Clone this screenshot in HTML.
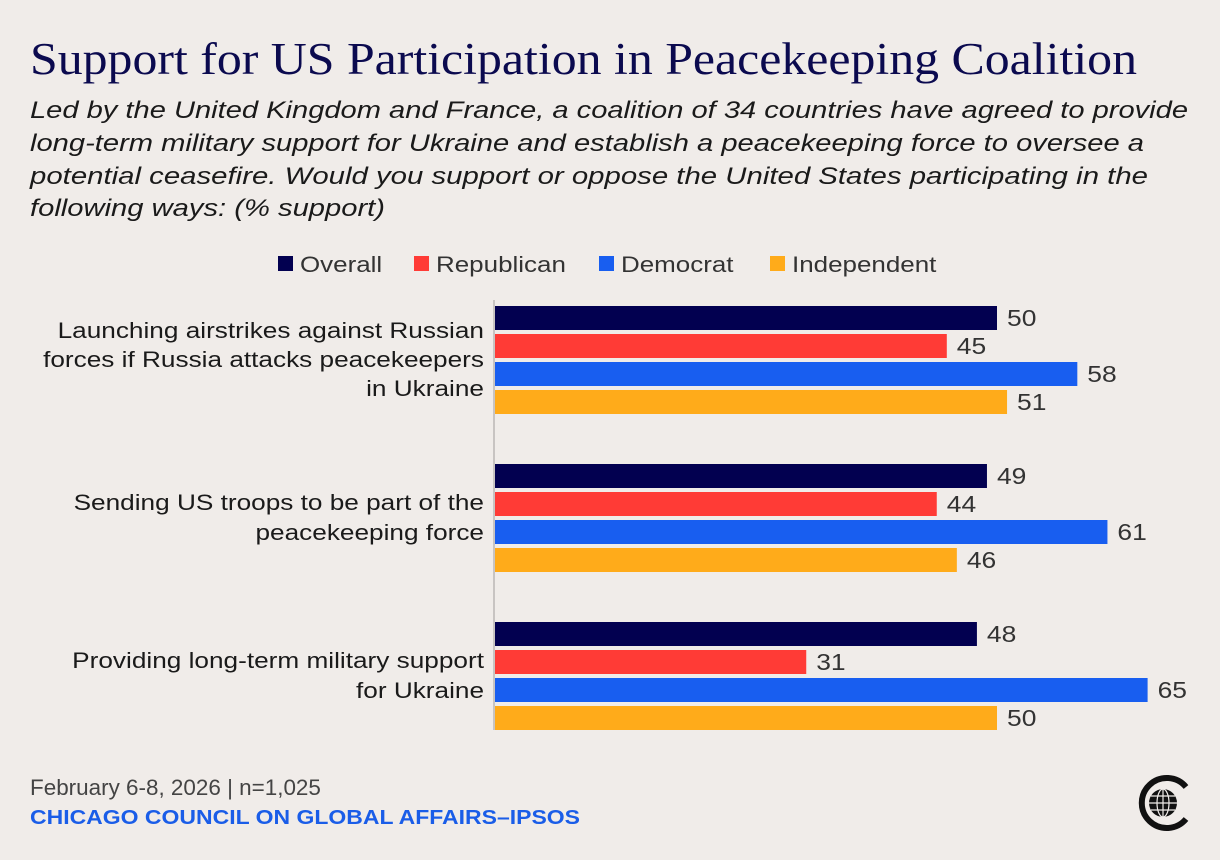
<!DOCTYPE html>
<html><head><meta charset="utf-8"><style>
html,body{margin:0;padding:0;background:#f0ece9;}
svg{display:block;font-family:"Liberation Sans",sans-serif;}
</style></head><body>
<svg id="chart" width="1220" height="860" viewBox="0 0 1220 860">
<rect width="1220" height="860" fill="#f0ece9"/>
<text x="30" y="74" font-family="Liberation Serif,serif" font-size="45" fill="#0b0a4f" textLength="1107" lengthAdjust="spacingAndGlyphs">Support for US Participation in Peacekeeping Coalition</text>
<g font-style="italic" font-size="24" fill="#1a1a1a">
<text x="30" y="118" textLength="1158" lengthAdjust="spacingAndGlyphs">Led by the United Kingdom and France, a coalition of 34 countries have agreed to provide</text>
<text x="30" y="151" textLength="1114" lengthAdjust="spacingAndGlyphs">long-term military support for Ukraine and establish a peacekeeping force to oversee a</text>
<text x="30" y="184" textLength="1118" lengthAdjust="spacingAndGlyphs">potential ceasefire. Would you support or oppose the United States participating in the</text>
<text x="30" y="216" textLength="355" lengthAdjust="spacingAndGlyphs">following ways: (% support)</text>
</g>
<g id="legend"></g>
<line x1="494" y1="300" x2="494" y2="730" stroke="#c8c4c2" stroke-width="2"/>
<g id="bars"></g>
<g id="cats" font-size="22" fill="#1a1a1a" text-anchor="end"></g>
<text class="w" x="30" y="795" font-size="22" fill="#444">February 6-8, 2026 | n=1,025</text>
<text x="30" y="824" font-size="20" font-weight="bold" fill="#1a5de8" textLength="550" lengthAdjust="spacingAndGlyphs">CHICAGO COUNCIL ON GLOBAL AFFAIRS–IPSOS</text>
<g>
<path d="M1186,787 A25,25 0 1 0 1186,819" fill="none" stroke="#111" stroke-width="6"/>
<circle cx="1163" cy="803" r="14" fill="#111"/>
<g stroke="#f0ece9" stroke-width="1.2" fill="none">
<ellipse cx="1163" cy="803" rx="6" ry="14"/>
<line x1="1149" y1="803" x2="1177" y2="803"/>
<line x1="1151" y1="796" x2="1175" y2="796"/>
<line x1="1151" y1="810" x2="1175" y2="810"/>
<line x1="1163" y1="789" x2="1163" y2="817"/>
</g>
</g>
</svg>
<script>
const categories = [
 ["Launching airstrikes against Russian","forces if Russia attacks peacekeepers","in Ukraine"],
 ["Sending US troops to be part of the","peacekeeping force"],
 ["Providing long-term military support","for Ukraine"]
];
const seriesNames = ["Overall","Republican","Democrat","Independent"];
const overall = [50,49,48];
const republican = [45,44,31];
const democrat = [58,61,65];
const independent = [51,46,50];
const colors = ["#020050","#ff3b36","#185ef0","#ffab1a"];
const series = [overall, republican, democrat, independent];
const NS="http://www.w3.org/2000/svg";
const x0=495, pxPer=10.04;
function xScale(v){return x0+v*pxPer;}
function groupY(g){return 306+g*158;}
function mk(tag,attrs,parent){const e=document.createElementNS(NS,tag);for(const k in attrs)e.setAttribute(k,attrs[k]);parent.appendChild(e);return e;}
function widen(t,f){const w=t.getComputedTextLength();t.setAttribute('textLength',(w*f).toFixed(1));t.setAttribute('lengthAdjust','spacingAndGlyphs');}
const bars=document.getElementById('bars'), cats=document.getElementById('cats'), legend=document.getElementById('legend');
const legX=[278,414,599,770];
seriesNames.forEach((n,i)=>{
 const r=mk('rect',{x:legX[i],y:256,width:15,height:15,fill:colors[i]},legend);
 
 
 const t=mk('text',{x:legX[i]+22,y:272,'font-size':22,fill:'#333'},legend);
 t.textContent=n;
 
 
 widen(t,1.18);
});
categories.forEach((lines,g)=>{
 const gy=groupY(g);
 series.forEach((s,i)=>{
  const y=gy+i*28;
  const r=mk('rect',{x:x0,y:y,width:xScale(s[g])-x0,height:24,fill:colors[i]},bars);
  
  
  const t=mk('text',{x:xScale(s[g])+10,y:y+20,'font-size':23,fill:'#333'},bars);
  t.textContent=s[g];
  
  
  widen(t,1.15);
 });
 const total=lines.length;
 lines.forEach((ln,k)=>{
  const by = total===3 ? gy+32+k*29 : gy+46+k*30;
  const t=mk('text',{x:484,y:by},cats);
  t.textContent=ln;
  
  
  widen(t,1.19);
 });
});
document.querySelectorAll('text.w').forEach(t=>widen(t,1.02));
</script>
</body></html>
